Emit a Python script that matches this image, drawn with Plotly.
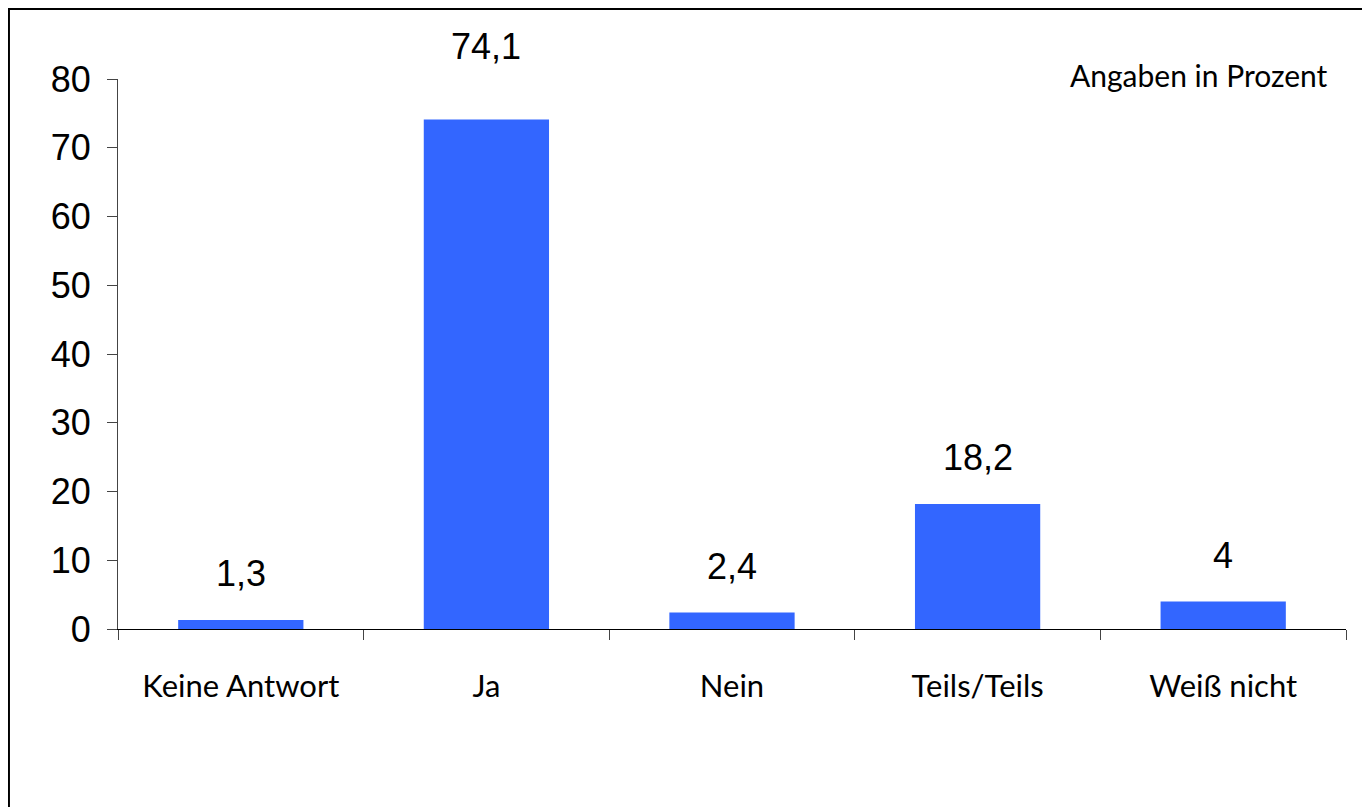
import plotly.graph_objects as go

# survey answers, values in percent
categories = ["Keine Antwort", "Ja", "Nein", "Teils/Teils", "Weiß nicht"]
values = [1.3, 74.1, 2.4, 18.2, 4]
value_labels = ["1,3", "74,1", "2,4", "18,2", "4"]

y_ticks = [0, 10, 20, 30, 40, 50, 60, 70, 80]

BAR_COLOR = "#3366FF"
NUM_FONT = "Liberation Sans, Arial, sans-serif"
TXT_FONT = "Lato, Noto Sans, sans-serif"

fig = go.Figure()

fig.add_trace(go.Bar(
    x=categories,
    y=values,
    marker=dict(color=BAR_COLOR, line=dict(width=0)),
    hoverinfo="x+y",
))

# value labels above the bars (the tall one sits a bit higher)
for cat, val, lab in zip(categories, values, value_labels):
    shift = 51 if val > 70 else 24
    fig.add_annotation(x=cat, y=val, text=lab, showarrow=False,
                       yanchor="bottom", yshift=shift,
                       font=dict(family=NUM_FONT, size=36, color="black"))

fig.add_annotation(xref="paper", yref="paper", x=0.987, y=1.007,
                   text="Angaben in Prozent", showarrow=False,
                   xanchor="right", yanchor="middle",
                   font=dict(family=TXT_FONT, size=30, color="black"))

# outer frame along the top-left edge of the figure (runs off right and bottom)
fig.add_shape(type="rect", xref="paper", yref="paper",
              x0=-0.0888, x1=1.05, y0=-0.5, y1=1.1273,
              line=dict(color="black", width=2), fillcolor="rgba(0,0,0,0)")

# page body has an 8px margin, so the figure is a bit smaller than the window
fig.update_layout(
    width=1362, height=799,
    margin=dict(l=110, r=24, t=71, b=178),
    paper_bgcolor="white", plot_bgcolor="white",
    bargap=0.49,
    showlegend=False,
    xaxis=dict(
        showline=True, linecolor="black", linewidth=1,
        ticks="outside", tickson="boundaries", ticklen=10, tickcolor="#444",
        ticklabelstandoff=30,
        tickfont=dict(family=TXT_FONT, size=31, color="black"),
        showgrid=False, zeroline=False,
    ),
    yaxis=dict(
        range=[0, 80], tickvals=y_ticks,
        showline=True, linecolor="#444", linewidth=1,
        ticks="outside", ticklen=10, tickcolor="#444",
        ticklabelstandoff=9,
        tickfont=dict(family=NUM_FONT, size=36, color="black"),
        showgrid=False, zeroline=False,
    ),
)

fig.write_html("out.html")
